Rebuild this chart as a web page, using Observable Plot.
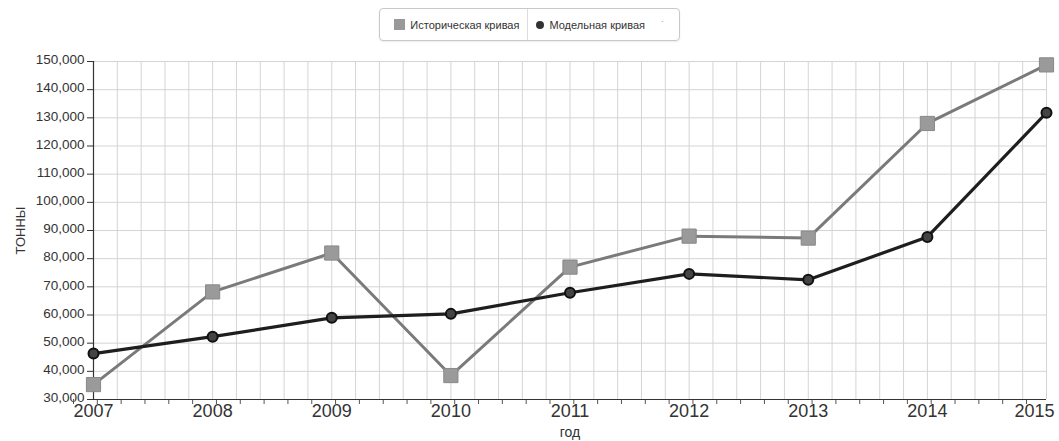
<!DOCTYPE html>
<html>
<head>
<meta charset="utf-8">
<script src="https://cdn.jsdelivr.net/npm/d3@7"></script>
<script src="https://cdn.jsdelivr.net/npm/@observablehq/plot@0.6"></script>
<style>
  html, body { margin: 0; padding: 0; background: #fff; font-family: "Liberation Sans", Arial, sans-serif; }
  #legend-wrap { height: 45px; display: flex; justify-content: center; align-items: flex-start; }
  #legend { margin-top: 8px; height: 31px; border: 1px solid #c8c8c8; border-radius: 4px; display: flex; align-items: center; font-size: 11px; color: #333; padding: 0 6px; box-shadow: 0 1px 2px rgba(0,0,0,0.08); }
  .item { display: flex; align-items: center; padding: 0 8px; }
  .sep { width: 1px; height: 31px; background: #ddd; }
  .sq { width: 11px; height: 11px; background: #999; margin-right: 5px; }
  .ci { width: 8px; height: 8px; border-radius: 50%; background: #333; margin-right: 5px; }
</style>
</head>
<body>
<div id="legend-wrap"></div>
<div id="chart"></div>
<script>
const years = [2007, 2008, 2009, 2010, 2011, 2012, 2013, 2014, 2015];
const historical = [35300, 68200, 82000, 38500, 77000, 88000, 87300, 128000, 148800];
const model = [46300, 52300, 59000, 60400, 67900, 74600, 72500, 87700, 131800];
const yTicks = [30000, 40000, 50000, 60000, 70000, 80000, 90000, 100000, 110000, 120000, 130000, 140000, 150000];
const seriesNames = ["Историческая кривая", "Модельная кривая"];
const xLabel = "год";
const yLabel = "ТОННЫ";

const minorX = d3.range(0, (years.length - 1) * 5 + 1).map(i => years[0] + i / 5);
const fmtY = d3.format(",");

const hist = years.map((y, i) => ({year: y, value: historical[i]}));
const mod = years.map((y, i) => ({year: y, value: model[i]}));

// legend
const lw = document.getElementById("legend-wrap");
lw.innerHTML = `<div id="legend">
  <div class="item"><div class="sq"></div><span>${seriesNames[0]}</span></div>
  <div class="sep"></div>
  <div class="item"><div class="ci"></div><span>${seriesNames[1]}</span><span style="margin-left:16px;color:#999">˙</span></div>
</div>`;

const chart = Plot.plot({
  width: 1059,
  height: 396,
  marginLeft: 93,
  marginRight: 13,
  marginTop: 16,
  marginBottom: 42,
  style: {fontFamily: "Liberation Sans, Arial, sans-serif", color: "#333", background: "#fff", overflow: "visible"},
  x: {domain: [years[0], years[years.length - 1]]},
  y: {domain: [yTicks[0], yTicks[yTicks.length - 1]]},
  marks: [
    Plot.gridX(minorX, {stroke: "#d4d4d4", strokeOpacity: 1}),
    Plot.gridY(yTicks, {stroke: "#d4d4d4", strokeOpacity: 1}),
    Plot.axisY({ticks: yTicks, tickFormat: () => "", tickSize: 6, stroke: "#333",
      label: yLabel, labelAnchor: "center", labelArrow: "none", labelOffset: 78, fontSize: 13, fill: "#333"}),
    Plot.axisY({ticks: yTicks, tickFormat: fmtY, tickSize: 0, tickPadding: 9, fontSize: 13.5, fill: "#333", dy: -1.5, label: null}),
    Plot.axisX({ticks: minorX, tickFormat: () => "", tickSize: 5, stroke: "#555",
      label: xLabel, labelAnchor: "center", labelArrow: "none", labelOffset: 37, fontSize: 14, dx: -20, fill: "#333"}),
    Plot.axisX(years.slice(0, -1), {tickSize: 0, tickFormat: "d", fontSize: 18, tickPadding: 5, fill: "#333", label: null}),
    Plot.axisX(years.slice(-1), {tickSize: 0, tickFormat: "d", fontSize: 18, tickPadding: 5, fill: "#333", textAnchor: "end", dx: 8, label: null}),
    Plot.ruleX([years[0]], {stroke: "#333", strokeWidth: 1.2}),
    Plot.ruleY([yTicks[0]], {stroke: "#333", strokeWidth: 1.2}),
    Plot.line(hist, {x: "year", y: "value", stroke: "#7a7a7a", strokeWidth: 3}),
    Plot.line(mod, {x: "year", y: "value", stroke: "#1e1e1e", strokeWidth: 3.2}),
    Plot.dot(hist, {x: "year", y: "value", symbol: "square", r: 8, fill: "#9a9a9a", stroke: "#888", strokeWidth: 1}),
    Plot.dot(mod, {x: "year", y: "value", r: 5, fill: "#444", stroke: "#111", strokeWidth: 2})
  ]
});
document.getElementById("chart").appendChild(chart);
</script>
</body>
</html>
